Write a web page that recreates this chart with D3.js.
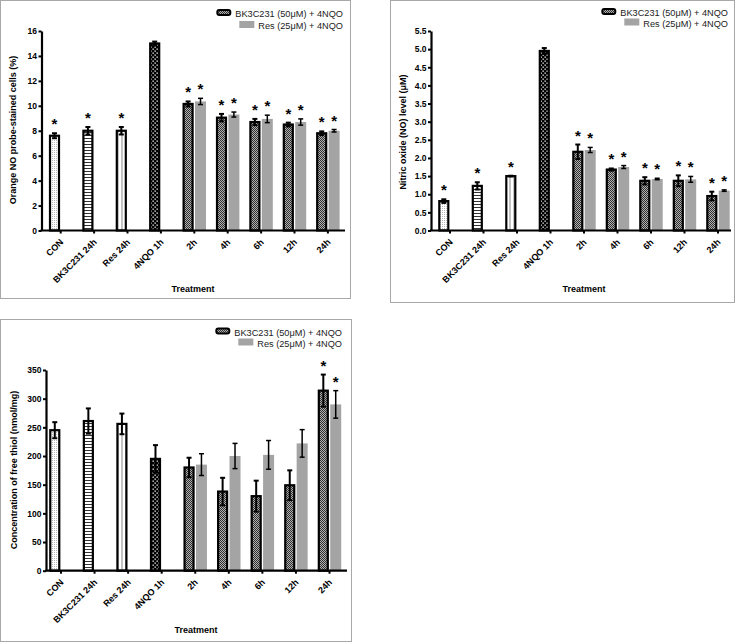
<!DOCTYPE html>
<html><head><meta charset="utf-8">
<script src="https://cdn.jsdelivr.net/npm/d3@7"></script>
<style>
body{margin:0;background:#fff;}
text{font-family:"Liberation Sans",Arial,Helvetica,sans-serif;}
</style>
</head><body>
<svg id="chart" width="740" height="642"></svg>
<script>
// ---------------- DATA ----------------
const categories = ["CON", "BK3C231 24h", "Res 24h", "4NQO 1h", "2h", "4h", "6h", "12h", "24h"];
const singleCategories = ["CON", "BK3C231 24h", "Res 24h", "4NQO 1h"];
const timeCategories = ["2h", "4h", "6h", "12h", "24h"];
const seriesNames = ["BK3C231 (50μM) + 4NQO", "Res (25μM) + 4NQO"];
const xTitle = "Treatment";

// Panel A: orange NO probe-stained cells (%)
const noCellsTitle = "Orange NO probe-stained cells (%)";
const noCellsTicks = [0, 2, 4, 6, 8, 10, 12, 14, 16];
const noCellsSingle = [7.6, 8.0, 8.0, 15.0];
const noCellsSingleErr = [0.2, 0.3, 0.3, 0.15];
const noCellsSingleStar = [true, true, true, false];
const noCellsBK = [10.15, 9.05, 8.7, 8.5, 7.8];
const noCellsBKErr = [0.2, 0.3, 0.25, 0.15, 0.15];
const noCellsBKStar = [true, true, true, true, true];
const noCellsRes = [10.35, 9.3, 8.95, 8.7, 8.0];
const noCellsResErr = [0.25, 0.2, 0.3, 0.25, 0.1];
const noCellsResStar = [true, true, true, true, true];

// Panel B: nitric oxide level (μM)
const noLevelTitle = "Nitric oxide (NO) level (μM)";
const noLevelTicks = [0, 0.5, 1.0, 1.5, 2.0, 2.5, 3.0, 3.5, 4.0, 4.5, 5.0, 5.5];
const noLevelSingle = [0.81, 1.23, 1.5, 4.95];
const noLevelSingleErr = [0.05, 0.1, 0.01, 0.08];
const noLevelSingleStar = [true, true, true, false];
const noLevelBK = [2.17, 1.68, 1.37, 1.37, 0.95];
const noLevelBKErr = [0.2, 0.03, 0.1, 0.15, 0.12];
const noLevelBKStar = [true, true, true, true, true];
const noLevelRes = [2.22, 1.75, 1.42, 1.41, 1.1];
const noLevelResErr = [0.07, 0.04, 0.02, 0.08, 0.02];
const noLevelResStar = [true, true, true, true, true];

// Panel C: concentration of free thiol (nmol/mg)
const thiolTitle = "Concentration of free thiol (nmol/mg)";
const thiolTicks = [0, 50, 100, 150, 200, 250, 300, 350];
const thiolSingle = [245, 261, 256, 195];
const thiolSingleErr = [14, 22, 18, 24];
const thiolSingleStar = [false, false, false, false];
const thiolBK = [180, 138, 130, 149, 314];
const thiolBKErr = [17, 24, 27, 26, 28];
const thiolBKStar = [false, false, false, false, true];
const thiolRes = [185, 200, 202, 222, 290];
const thiolResErr = [19, 22, 25, 24, 24];
const thiolResStar = [false, false, false, false, true];

// ---------------- DRAWING ----------------
const svg = d3.select("#chart");
const defs = svg.append("defs");

function pat(id, w, h, bg, shapes) {
  const p = defs.append("pattern").attr("id", id).attr("patternUnits", "userSpaceOnUse")
    .attr("width", w).attr("height", h);
  p.append("rect").attr("width", w).attr("height", h).attr("fill", bg);
  shapes.forEach(s => p.append("rect").attr("x", s[0]).attr("y", s[1]).attr("width", s[2]).attr("height", s[3]).attr("fill", s[4]));
}
pat("pCon", 2, 2, "#ffffff", [[0, 0, 1, 1, "#b8b8b8"]]);
pat("pHStripe", 3, 3, "#ffffff", [[0, 0, 3, 1, "#333"]]);
pat("pVStripe", 4, 4, "#ffffff", [[1.5, 0, 1, 4, "#888"]]);
pat("pDots", 4, 4, "#000000", [[0.5, 0.5, 1.3, 1.3, "#fff"], [2.5, 2.5, 1.3, 1.3, "#fff"]]);
pat("pChecker", 2, 2, "#b0b0b0", [[0, 0, 1, 1, "#303030"], [1, 1, 1, 1, "#303030"]]);

const singleFills = ["url(#pCon)", "url(#pHStripe)", "url(#pVStripe)", "url(#pDots)"];
const grayFill = "#a4a4a4";
const FRAME = "#a8a8a8";

function drawPanel(cfg) {
  const g = svg.append("g");
  // frame
  g.append("rect").attr("x", cfg.frame[0] + 0.5).attr("y", cfg.frame[1] + 0.5)
    .attr("width", cfg.frame[2] - cfg.frame[0]).attr("height", cfg.frame[3] - cfg.frame[1])
    .attr("fill", "none").attr("stroke", FRAME).attr("stroke-width", 1);

  const y = d3.scaleLinear().domain([0, cfg.ticks[cfg.ticks.length - 1]]).range([cfg.y0, cfg.yTop]);
  const x = d3.scaleBand().domain(categories).range(cfg.xr);
  const cx = c => x(c) + x.bandwidth() / 2;
  const bw = 11, off = 6.2;

  // bars
  const bars = [];
  singleCategories.forEach((c, i) => bars.push({c, v: cfg.single[i], e: cfg.singleErr[i], s: cfg.singleStar[i], dx: -off, fill: singleFills[i], outline: true}));
  timeCategories.forEach((c, i) => {
    bars.push({c, v: cfg.bk[i], e: cfg.bkErr[i], s: cfg.bkStar[i], dx: -off, fill: "url(#pChecker)", outline: true});
    bars.push({c, v: cfg.res[i], e: cfg.resErr[i], s: cfg.resStar[i], dx: off, fill: grayFill, outline: false});
  });

  bars.forEach(b => {
    const xc = cx(b.c) + b.dx;
    if (b.outline) {
      g.append("rect").attr("x", xc - bw / 2 + 1).attr("y", y(b.v))
        .attr("width", bw - 2).attr("height", y(0) - y(b.v))
        .attr("fill", b.fill).attr("stroke", "#000").attr("stroke-width", 2.2);
    } else {
      g.append("rect").attr("x", xc - bw / 2).attr("y", y(b.v))
        .attr("width", bw).attr("height", y(0) - y(b.v)).attr("fill", b.fill);
    }
    // error bar
    const sw = b.outline ? 2 : 1.5;
    const top = y(b.v + b.e), bot = y(b.v - b.e);
    g.append("line").attr("x1", xc).attr("x2", xc).attr("y1", top).attr("y2", bot).attr("stroke", "#000").attr("stroke-width", sw);
    [top, bot].forEach(yy => g.append("line").attr("x1", xc - 2.5).attr("x2", xc + 2.5).attr("y1", yy).attr("y2", yy).attr("stroke", "#000").attr("stroke-width", sw));
    if (b.s) {
      g.append("text").attr("x", xc).attr("y", top - cfg.starGap).attr("text-anchor", "middle")
        .attr("font-size", 15).attr("font-weight", "bold").attr("fill", "#000").text("*");
    }
  });

  // y axis
  const ya = g.append("g").attr("transform", `translate(${cfg.axisX},0)`)
    .call(d3.axisLeft(y).tickValues(cfg.ticks).tickFormat(cfg.fmt).tickSize(3).tickSizeOuter(0));
  ya.select(".domain").attr("stroke-width", 2.2);
  ya.selectAll(".tick line").attr("stroke-width", 2);
  ya.selectAll(".tick text").attr("font-size", 8.5).attr("font-weight", "bold").attr("x", -4.5)
    .style("font-family", "'Liberation Sans',Arial,sans-serif");

  // x axis
  const xa = g.append("g").attr("transform", `translate(0,${cfg.y0})`)
    .call(d3.axisBottom(x).tickSize(3).tickSizeOuter(0));
  xa.select(".domain").remove();
  xa.selectAll(".tick line").attr("stroke-width", 2);
  xa.selectAll(".tick text").attr("font-size", 9).attr("font-weight", "bold")
    .style("font-family", "'Liberation Sans',Arial,sans-serif")
    .attr("text-anchor", "end").attr("y", 0).attr("dy", "0.35em")
    .attr("transform", "translate(1,10) rotate(-45)");
  g.append("line").attr("x1", cfg.axisX - 1).attr("x2", cfg.xEnd).attr("y1", cfg.y0).attr("y2", cfg.y0)
    .attr("stroke", "#000").attr("stroke-width", 2.2);

  // titles
  g.append("text").attr("transform", `translate(${cfg.yTitle[0]},${cfg.yTitle[1]}) rotate(-90)`)
    .attr("text-anchor", "middle").attr("font-size", 9).attr("font-weight", "bold").text(cfg.title);
  g.append("text").attr("x", cfg.xTitle[0]).attr("y", cfg.xTitle[1])
    .attr("text-anchor", "middle").attr("font-size", 9).attr("font-weight", "bold").text(xTitle);

  // legend
  const lg = g.append("g");
  seriesNames.forEach((n, i) => {
    const ty = cfg.legY[i];
    const t = lg.append("text").attr("x", cfg.legX).attr("y", ty).attr("text-anchor", "end")
      .attr("font-size", 9.2).attr("fill", "#222").text(n);
    const w = t.node().getComputedTextLength();
    const sx = cfg.legX - w - 19;
    if (i === 0) {
      lg.append("rect").attr("x", sx + 1).attr("y", ty - 7).attr("width", 13).attr("height", 5).attr("rx", 2)
        .attr("fill", "url(#pChecker)").attr("stroke", "#000").attr("stroke-width", 2);
    } else {
      lg.append("rect").attr("x", sx).attr("y", ty - 8).attr("width", 15).attr("height", 7).attr("fill", grayFill);
    }
  });
}

drawPanel({
  frame: [0, 0, 350, 298], axisX: 41.5, xEnd: 345, xr: [44, 344.6], y0: 230.5, yTop: 31,
  ticks: noCellsTicks, fmt: d3.format("d"), title: noCellsTitle, yTitle: [15.5, 130], xTitle: [193, 292],
  single: noCellsSingle, singleErr: noCellsSingleErr, singleStar: noCellsSingleStar,
  bk: noCellsBK, bkErr: noCellsBKErr, bkStar: noCellsBKStar,
  res: noCellsRes, resErr: noCellsResErr, resStar: noCellsResStar,
  legX: 343, legY: [17, 29], starGap: 4
});
drawPanel({
  frame: [390, 0, 734, 302], axisX: 431, xEnd: 731, xr: [433.25, 734.75], y0: 230.5, yTop: 31,
  ticks: noLevelTicks, fmt: d3.format(".1f"), title: noLevelTitle, yTitle: [406, 132], xTitle: [584, 292],
  single: noLevelSingle, singleErr: noLevelSingleErr, singleStar: noLevelSingleStar,
  bk: noLevelBK, bkErr: noLevelBKErr, bkStar: noLevelBKStar,
  res: noLevelRes, resErr: noLevelResErr, resStar: noLevelResStar,
  legX: 728, legY: [16, 26.5], starGap: 4
});
drawPanel({
  frame: [0, 319, 351, 641], axisX: 46, xEnd: 347, xr: [44.2, 346.3], y0: 570.7, yTop: 370,
  ticks: thiolTicks, fmt: d3.format("d"), title: thiolTitle, yTitle: [16.5, 470], xTitle: [196, 633],
  single: thiolSingle, singleErr: thiolSingleErr, singleStar: thiolSingleStar,
  bk: thiolBK, bkErr: thiolBKErr, bkStar: thiolBKStar,
  res: thiolRes, resErr: thiolResErr, resStar: thiolResStar,
  legX: 342, legY: [335.5, 346.5], starGap: 4
});
</script>
</body></html>
